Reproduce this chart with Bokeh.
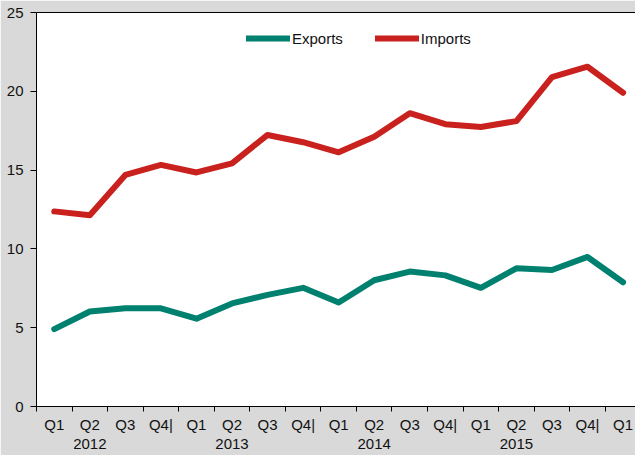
from bokeh.plotting import figure
from bokeh.models import FixedTicker, Range1d, ColumnDataSource, Legend, LegendItem, LinearAxis
from bokeh.embed import file_html
from bokeh.resources import INLINE

quarters = ["Q1", "Q2", "Q3", "Q4|"] * 4 + ["Q1"]
years = ["2012", "2013", "2014", "2015", "2016"]
exports = [4.91, 6.03, 6.23, 6.23, 5.57, 6.54, 7.08, 7.53, 6.60, 8.01, 8.56, 8.32, 7.53, 8.77, 8.66, 9.49, 7.88]
imports = [12.38, 12.13, 14.69, 15.33, 14.85, 15.43, 17.23, 16.77, 16.13, 17.12, 18.61, 17.91, 17.74, 18.11, 20.90, 21.56, 19.91]
y_ticks = [0, 5, 10, 15, 20, 25]

FONT = "'Liberation Sans Narrow', 'Arial Narrow', 'Liberation Sans', sans-serif"
n = len(quarters)
xs = [i + 0.5 for i in range(n)]
labels = {}
for i, q in enumerate(quarters):
    lab = q
    if i % 4 == 1:
        lab = q + "\n" + years[i // 4]
    labels[xs[i]] = lab

src = ColumnDataSource(dict(x=xs, exp=exports, imp=imports))

p = figure(width=635, height=455, output_backend="svg", toolbar_location=None,
           x_range=Range1d(0, 16.85), y_range=Range1d(0, 25),
           min_border_left=36, min_border_right=0, min_border_top=12, min_border_bottom=46)
p.background_fill_color = "white"
p.border_fill_color = "#d9d9d9"
p.outline_line_color = None
p.grid.visible = False

r1 = p.line("x", "exp", source=src, line_color="#00806f", line_width=6, line_cap="round", line_join="round")
r2 = p.line("x", "imp", source=src, line_color="#c9211e", line_width=6, line_cap="round", line_join="round")

xa = p.xaxis[0]
xa.ticker = FixedTicker(ticks=xs, minor_ticks=list(range(n + 1)))
xa.major_label_overrides = labels
xa.major_tick_line_color = None
xa.major_tick_out = 5
xa.major_tick_in = 0
xa.minor_tick_out = 5
xa.minor_tick_in = 0
xa.minor_tick_line_color = "black"
xa.axis_line_color = "black"
xa.major_label_standoff = 4
xa.major_label_text_font = FONT
xa.major_label_text_font_size = "15px"
xa.major_label_text_line_height = 1.15
xa.major_label_text_color = "#111111"

ya = p.yaxis[0]
ya.ticker = FixedTicker(ticks=y_ticks)
ya.major_tick_out = 6
ya.major_tick_in = 0
ya.minor_tick_line_color = None
ya.axis_line_color = "black"
ya.major_tick_line_color = "black"
ya.major_label_standoff = 7
ya.major_label_text_font = FONT
ya.major_label_text_font_size = "15px"
ya.major_label_text_color = "#111111"

top = LinearAxis(ticker=FixedTicker(ticks=[]), major_label_text_font_size="0px",
                 major_tick_out=0, major_tick_in=0, major_label_standoff=0,
                 axis_line_color="black", minor_tick_line_color=None)
p.add_layout(top, "above")

legend = Legend(items=[LegendItem(label="Exports", renderers=[r1]),
                       LegendItem(label="Imports", renderers=[r2])],
                orientation="horizontal", location=(210, 358),
                padding=0, margin=0, spacing=32, glyph_width=44, glyph_height=20,
                label_standoff=2, label_text_font=FONT, label_text_font_size="15px",
                label_text_color="#111111", background_fill_alpha=0, border_line_color=None)
p.add_layout(legend, "center")

open("out.html", "w").write(file_html(p, INLINE))
